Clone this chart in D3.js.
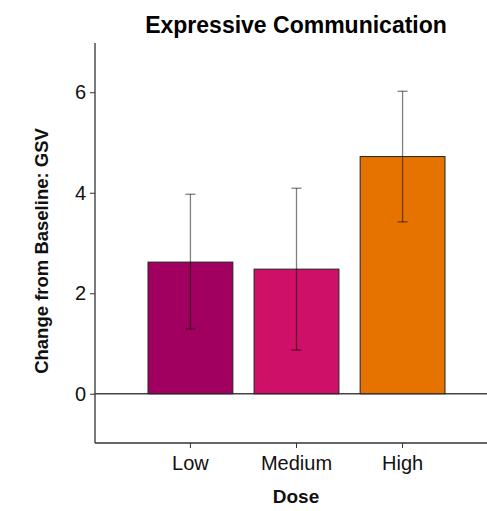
<!DOCTYPE html>
<html><head><meta charset="utf-8">
<script src="https://cdn.jsdelivr.net/npm/d3@7"></script>
<style>body{margin:0;background:#fff}svg{display:block}</style>
</head><body>
<script>
const categories = ["Low", "Medium", "High"];
const means = [2.62, 2.48, 4.72];
const lowerCI = [1.29, 0.87, 3.42];
const upperCI = [3.97, 4.09, 6.02];
const colors = ["#a10060", "#cf1068", "#e67300"];
const yTicks = [0, 2, 4, 6];

const W = 487, H = 511;
const svg = d3.select("body").append("svg").attr("width", W).attr("height", H);
const font = "Liberation Sans, Arial, sans-serif";

const x = d3.scaleBand().domain(categories).range([148, 445]).paddingInner(0.2).paddingOuter(0);
const y = d3.scaleLinear().domain([-0.98, 6.98]).range([443, 43]);

// zero line
svg.append("line").attr("x1", 95).attr("x2", W).attr("y1", y(0)).attr("y2", y(0))
  .attr("stroke", "#444").attr("stroke-width", 1.3);

// bars
svg.selectAll("rect.bar").data(categories).enter().append("rect")
  .attr("x", d => x(d)).attr("width", x.bandwidth())
  .attr("y", (d, i) => y(means[i])).attr("height", (d, i) => y(0) - y(means[i]))
  .attr("fill", (d, i) => colors[i]).attr("stroke", "#222").attr("stroke-width", 1);

// error bars
const eb = svg.append("g").attr("stroke", "#000").attr("stroke-opacity", 0.5).attr("stroke-width", 1.3);
categories.forEach((c, i) => {
  const cx = x(c) + x.bandwidth() / 2;
  eb.append("line").attr("x1", cx).attr("x2", cx).attr("y1", y(lowerCI[i])).attr("y2", y(upperCI[i]));
  [lowerCI[i], upperCI[i]].forEach(v => {
    eb.append("line").attr("x1", cx - 5).attr("x2", cx + 5).attr("y1", y(v)).attr("y2", y(v));
  });
});

// y axis
const ya = svg.append("g").attr("transform", "translate(95,0)")
  .call(d3.axisLeft(y).tickValues(yTicks).tickSize(5).tickPadding(4));
ya.select(".domain").attr("d", `M0,${y.range()[1]}V${y.range()[0]}`).attr("stroke", "#333").attr("stroke-width", 1.3);
ya.selectAll(".tick line").attr("stroke", "#333");
ya.selectAll("text").attr("font-family", font).attr("font-size", 20).attr("fill", "#111");

// x axis
const xa = svg.append("g").attr("transform", "translate(0,443)")
  .call(d3.axisBottom(x).tickSize(5).tickPadding(8));
xa.select(".domain").attr("d", `M95,0H${W}`).attr("stroke", "#333").attr("stroke-width", 1.3);
xa.selectAll(".tick line").attr("stroke", "#333");
xa.selectAll("text").attr("font-family", font).attr("font-size", 20).attr("fill", "#111");

// titles
svg.append("text").attr("x", 296).attr("y", 33).attr("text-anchor", "middle")
  .attr("font-family", font).attr("font-weight", "bold").attr("font-size", 23).attr("fill", "#000")
  .text("Expressive Communication");
svg.append("text").attr("x", 296).attr("y", 503).attr("text-anchor", "middle")
  .attr("font-family", font).attr("font-weight", "bold").attr("font-size", 19).attr("fill", "#111")
  .text("Dose");
svg.append("text").attr("transform", "translate(48,251) rotate(-90)").attr("text-anchor", "middle")
  .attr("font-family", font).attr("font-weight", "bold").attr("font-size", 18.5).attr("fill", "#111")
  .text("Change from Baseline: GSV");
</script>
</body></html>
